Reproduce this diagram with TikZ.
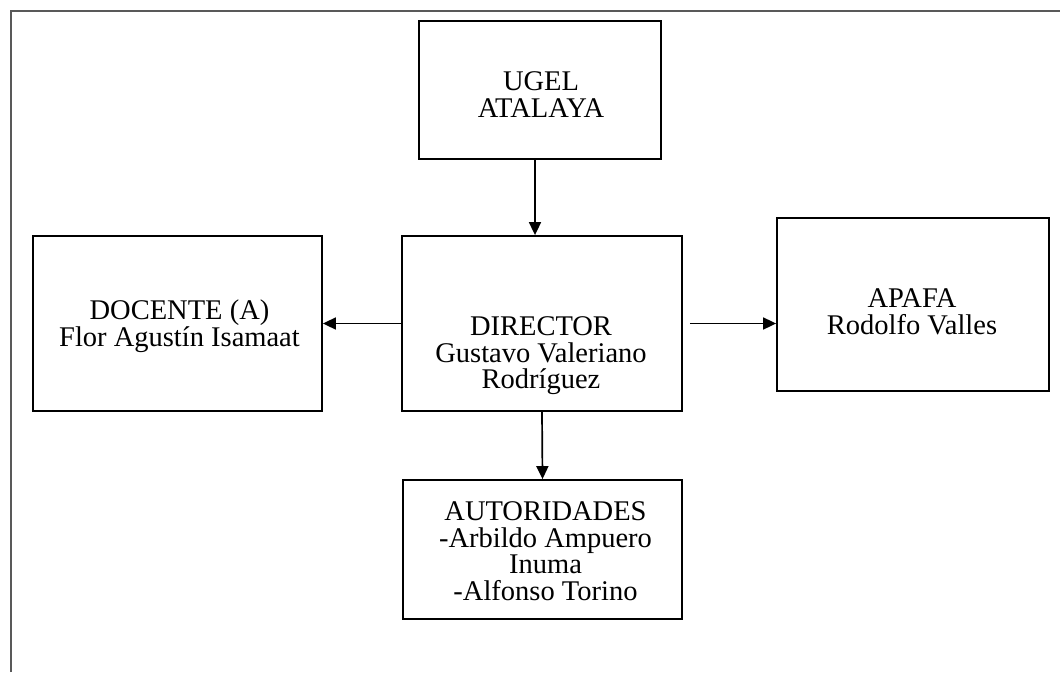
\documentclass[tikz,border=0pt]{standalone}
\usepackage{fontspec}
\setmainfont{Liberation Serif}
\usetikzlibrary{positioning}
\usetikzlibrary{arrows.meta}
\tikzset{orgbox/.style={draw,line width=1.8pt,rectangle,inner sep=0pt}}
\tikzset{orgtext/.style={align=center,inner sep=0pt,anchor=north,font=\fontsize{28.5}{26.5}\selectfont}}

\begin{document}
\begin{tikzpicture}[x=1pt,y=-1pt,>={Triangle[length=13pt,width=12pt]},line width=1.7pt]
    \useasboundingbox (0,0) rectangle (1060,672);
    % outer frame, cut by the page edge
    \draw[line width=2.2pt,black!65] (11,672) -- (11,11) -- (1060,11);
    % boxes
    \node[orgbox,minimum width=242pt,minimum height=138pt] (ugel) at (540,90) {};
    \node[orgbox,minimum width=280pt,minimum height=175pt] (director) at (542,323.5) {};
    \node[orgbox,minimum width=289pt,minimum height=175pt] (docente) at (177.5,323.5) {};
    \node[orgbox,minimum width=272pt,minimum height=173pt] (apafa) at (913,304.5) {};
    \node[orgbox,minimum width=279pt,minimum height=139pt] (autoridades) at (542.5,549.5) {};
    % texts
    \node[orgtext,below=51pt of ugel.north,xshift=1pt] (ugeltxt) {UGEL\\ATALAYA};
    \node[orgtext,below=81pt of director.north,xshift=-1pt] (directortxt) {DIRECTOR\\Gustavo Valeriano\\Rodríguez};
    \node[orgtext,below=64pt of docente.north,xshift=2pt] (docentetxt) {DOCENTE (A)\\Flor Agustín Isamaat};
    \node[orgtext,below=71pt of apafa.north,xshift=-1pt] (apafatxt) {APAFA\\Rodolfo Valles};
    \node[orgtext,below=22pt of autoridades.north,xshift=3pt] (autoridadestxt) {AUTORIDADES\\-Arbildo Ampuero\\Inuma\\-Alfonso Torino};
    % connectors
    \draw[->] ([xshift=-5pt]ugel.south) -- ([xshift=-5pt]ugel.south |- director.north);
    \draw[->] (director.west) -- (docente.east);
    \draw[->] ([xshift=7pt]director.east) -- (director.east -| apafa.west);
    \draw[->] (director.south) -- (autoridades.north);
\end{tikzpicture}
\end{document}
